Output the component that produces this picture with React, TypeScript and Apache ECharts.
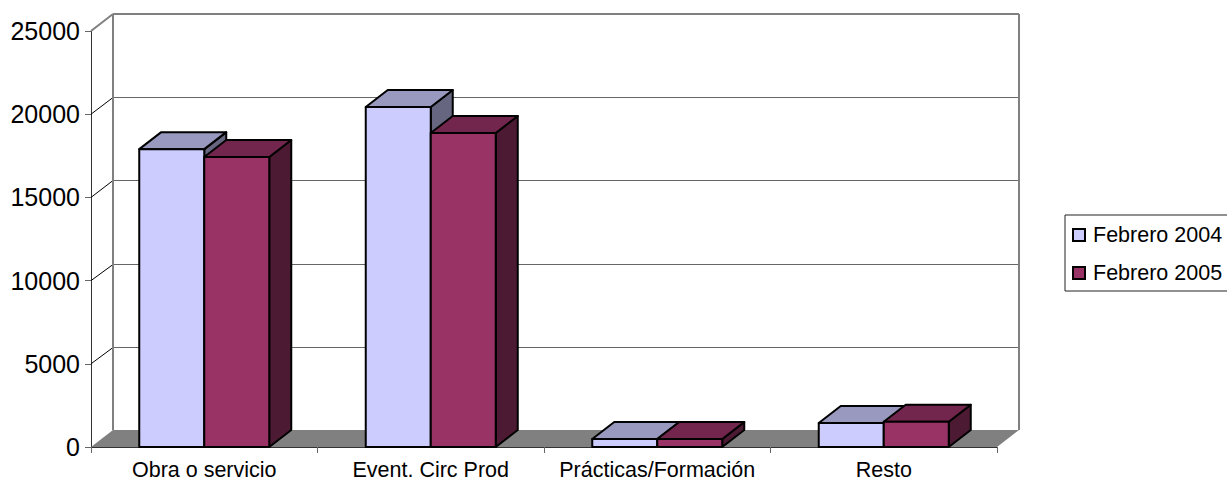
import React, { useEffect, useRef } from "react";
import * as echarts from "echarts";

const categories = ["Obra o servicio", "Event. Circ Prod", "Prácticas/Formación", "Resto"];
const febrero2004 = [17900, 20430, 480, 1440];
const febrero2005 = [17430, 18870, 480, 1520];
const yTicks = [0, 5000, 10000, 15000, 20000, 25000];
const FONT = '"Liberation Sans", Arial, sans-serif';
const DX = 22;
const DY = 17;
const BAR = 65;

function shade(hex: string, k: number) {
  const n = parseInt(hex.slice(1), 16);
  const c = [(n >> 16) & 255, (n >> 8) & 255, n & 255].map((v) => Math.round(v * k));
  return `rgb(${c[0]},${c[1]},${c[2]})`;
}

function barRenderer(color: string, slot: number) {
  return (params: any, api: any) => {
    const idx = api.value(0);
    const top = api.coord([idx, api.value(1)]);
    const base = api.coord([idx, 0]);
    const x0 = top[0] + slot * BAR;
    const x1 = x0 + BAR;
    const yT = top[1];
    const yB = base[1];
    const line = { stroke: "#000", lineWidth: 2, lineJoin: "round" };
    const poly = (points: number[][], fill: string) => ({
      type: "polygon",
      shape: { points },
      style: { fill, ...line },
    });
    return {
      type: "group",
      children: [
        poly([[x1, yB], [x1 + DX, yB - DY], [x1 + DX, yT - DY], [x1, yT]], shade(color, 0.5)),
        poly([[x0, yT], [x0 + DX, yT - DY], [x1 + DX, yT - DY], [x1, yT]], shade(color, 0.75)),
        poly([[x0, yT], [x1, yT], [x1, yB], [x0, yB]], color),
      ],
    };
  };
}

function wallRenderer(params: any, api: any) {
  const v = api.value(1);
  const band = api.size([1, 0])[0];
  const y = api.coord([0, v])[1];
  const xL = api.coord([0, v])[0] - band / 2;
  const right = xL + band * categories.length;
  const isTop = v === 25000;
  const isBase = v === 0;
  const children: any[] = [];
  if (isBase) {
    children.push({
      type: "polygon",
      shape: { points: [[xL, y], [xL + DX, y - DY], [right + DX, y - DY], [right, y]] },
      style: { fill: "#808080", stroke: "none" },
    });
    return { type: "group", children };
  }
  const yBack = isTop ? Math.round(y - DY) : Math.round(y - DY) + 0.5;
  children.push({
    type: "line",
    shape: { x1: xL, y1: y, x2: xL + DX, y2: yBack },
    style: { stroke: isTop ? "#808080" : "#000", lineWidth: isTop ? 2 : 1 },
  });
  children.push({
    type: "line",
    shape: { x1: xL + DX, y1: yBack, x2: right + DX, y2: yBack },
    style: { stroke: isTop ? "#808080" : "#666", lineWidth: isTop ? 2 : 1 },
  });
  if (isTop) {
    const yBase = api.coord([0, 0])[1];
    [xL + DX, right + DX].forEach((x) =>
      children.push({
        type: "line",
        shape: { x1: x, y1: yBack, x2: x, y2: yBase - DY },
        style: { stroke: "#808080", lineWidth: 2 },
      })
    );
  }
  return { type: "group", children };
}

export default function App() {
  const ref = useRef<HTMLDivElement>(null);
  useEffect(() => {
    const chart = echarts.init(ref.current!, undefined, { renderer: "svg" });
    const catIdx = categories.map((_, i) => i);
    chart.setOption({
      animation: false,
      backgroundColor: "#fff",
      grid: { left: 91, top: 31, width: 906, height: 416, outerBoundsMode: "none" },
      xAxis: {
        type: "category",
        data: categories,
        axisLine: { lineStyle: { color: "#333", width: 1 } },
        axisTick: { show: true, length: 6, lineStyle: { color: "#666" } },
        axisLabel: { color: "#000", fontFamily: FONT, fontSize: 21.5, margin: 12, lineHeight: 21, interval: 0 },
        splitLine: { show: false },
      },
      yAxis: {
        type: "value",
        min: 0,
        max: 25000,
        interval: 5000,
        axisLine: { show: true, lineStyle: { color: "#333", width: 1 } },
        axisTick: { show: true, length: 6, lineStyle: { color: "#666" } },
        axisLabel: {
          color: "#000",
          fontFamily: FONT,
          fontSize: 25,
          margin: 11,
          padding: [0, 0, 3, 0],
          formatter: (v: number) => String(v),
        },
        splitLine: { show: false },
      },
      legend: {
        orient: "vertical",
        left: 1065,
        top: 215,
        data: [
          { name: "Febrero 2004", icon: "rect" },
          { name: "Febrero 2005", icon: "rect" },
        ],
        itemWidth: 12,
        itemHeight: 12,
        itemGap: 16,
        padding: [9, 30, 7, 7],
        borderColor: "#222",
        borderWidth: 1,
        textStyle: { color: "#000", fontFamily: FONT, fontSize: 21.5, padding: [0, 0, 0, 3] },
      },
      series: [
        {
          name: "walls",
          type: "custom",
          coordinateSystem: "cartesian2d",
          renderItem: wallRenderer,
          data: yTicks.map((v) => [0, v]),
          encode: { x: 0, y: 1 },
          clip: false,
          silent: true,
          z: 1,
        },
        {
          name: "Febrero 2004",
          type: "custom",
          renderItem: barRenderer("#CCCCFF", -1),
          data: catIdx.map((i) => [i, febrero2004[i]]),
          encode: { x: 0, y: 1 },
          itemStyle: { color: "#CCCCFF", borderColor: "#000", borderWidth: 2 },
          clip: false,
          z: 3,
        },
        {
          name: "Febrero 2005",
          type: "custom",
          renderItem: barRenderer("#993366", 0),
          data: catIdx.map((i) => [i, febrero2005[i]]),
          encode: { x: 0, y: 1 },
          itemStyle: { color: "#993366", borderColor: "#000", borderWidth: 2 },
          clip: false,
          z: 4,
        },
      ],
    });
    return () => chart.dispose();
  }, []);
  return <div ref={ref} style={{ width: 1227, height: 481, position: "absolute", left: 0, top: 0 }} />;
}
